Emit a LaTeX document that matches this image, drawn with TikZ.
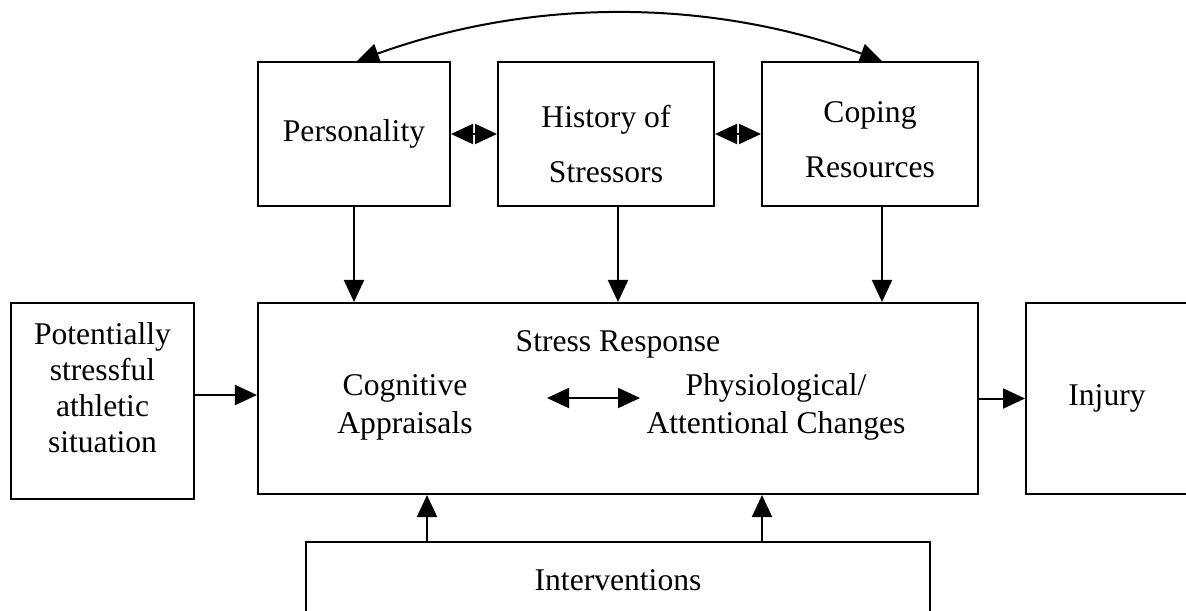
\documentclass[tikz,border=0pt]{standalone}
\usepackage{fontspec}
\setmainfont{Liberation Serif}
\usetikzlibrary{arrows.meta,calc}
\begin{document}
\begin{tikzpicture}[x=0.5bp,y=-0.5bp,line width=1bp,
  box/.style={draw,line width=1bp,inner sep=0pt,align=center},
  arr/.style={-{Triangle[length=11bp,width=10bp]}},
  darr/.style={{Triangle[length=11bp,width=10bp]}-{Triangle[length=11bp,width=10bp]}},
  font=\fontsize{15.8bp}{19bp}\selectfont]
\useasboundingbox (0,0) rectangle (1186,610);
\clip (0,0) rectangle (1186,610);
% top row
\node[box,minimum width=96bp,minimum height=72bp] (pers) at (354,134) {Personality};
\node[box,minimum width=108bp,minimum height=72bp,font=\fontsize{15.8bp}{27.5bp}\selectfont,text height=48.3bp] (hist) at (606,134) {History of\\Stressors};
\node[box,minimum width=108bp,minimum height=72bp,font=\fontsize{15.8bp}{27.5bp}\selectfont,text height=43.2bp] (cop) at (870,134) {Coping\\Resources};
% middle row
\node[box,minimum width=91.5bp,minimum height=98bp,font=\fontsize{15.8bp}{18bp}\selectfont,text depth=13bp] (left) at (102.5,401) {Potentially\\stressful\\athletic\\situation};
\node[box,minimum width=360bp,minimum height=95.5bp] (main) at (618,398.5) {};
\node[box,minimum width=81bp,minimum height=95.5bp] (inj) at (1107,398.5) {Injury};
% bottom
\node[box,minimum width=312bp,minimum height=38bp] (interv) at (618,580) {Interventions};
% texts in main box
\node[anchor=base] (sr) at (618,351) {Stress Response};
\node[align=center] (cog) at (405,407) {Cognitive\\Appraisals};
\node[align=center] (phys) at (776,407) {Physiological/\\Attentional Changes};
\coordinate (da) at (547,398);
\coordinate (db) at (640,398);
% connectors
\draw[darr] ([xshift=1.5bp]pers.north) .. controls (532,-2) and (707,-2) .. ([xshift=6bp]cop.north);
\draw[darr] (pers.east) -- (hist.west);
\draw[darr] (hist.east) -- (cop.west);
\draw[arr] (pers.south) -- (pers.south |- main.north);
\draw[arr] ([xshift=6bp]hist.south) -- ([xshift=6bp]hist.south |- main.north);
\draw[arr] ([xshift=6bp]cop.south) -- ([xshift=6bp]cop.south |- main.north);
\draw[arr] ([yshift=3bp]left.east) -- ([yshift=3bp]left.east -| main.west);
\draw[arr] (main.east) -- (main.east -| inj.west);
\draw[darr] (da) -- (db);
\draw[arr] ([xshift=-95.5bp]interv.north) -- ([xshift=-95.5bp]interv.north |- main.south);
\draw[arr] ([xshift=72bp]interv.north) -- ([xshift=72bp]interv.north |- main.south);
\end{tikzpicture}
\end{document}
